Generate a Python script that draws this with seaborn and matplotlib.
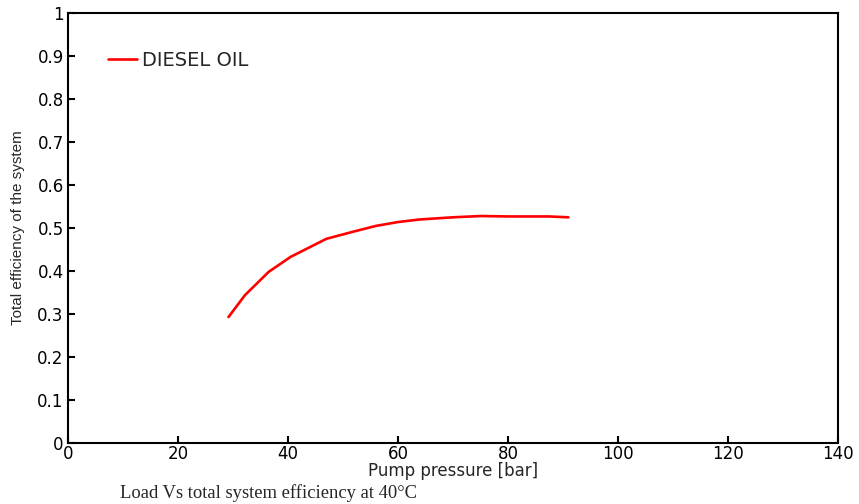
import matplotlib
matplotlib.use("Agg")
import matplotlib.pyplot as plt
import seaborn as sns
import pandas as pd

pressure = [29.2, 32.2, 36.5, 40.5, 47.0, 52.0, 56.0, 60.0, 64.0, 70.0, 75.0, 80.0, 87.5, 91.0]
efficiency = [0.293, 0.344, 0.398, 0.433, 0.475, 0.492, 0.505, 0.514, 0.520, 0.525, 0.528, 0.527, 0.527, 0.525]
series_label = "DIESEL OIL"
x_ticks = [0, 20, 40, 60, 80, 100, 120, 140]
y_ticks = [0, 0.1, 0.2, 0.3, 0.4, 0.5, 0.6, 0.7, 0.8, 0.9, 1]
y_tick_labels = ["0", "0.1", "0.2", "0.3", "0.4", "0.5", "0.6", "0.7", "0.8", "0.9", "1"]

sns.set_style("white")
plt.rcParams['font.family'] = ['DejaVu Sans']

df = pd.DataFrame({"Pump pressure": pressure, "Efficiency": efficiency})

fig = plt.figure(figsize=(8.59, 5.04), dpi=100)
ax = fig.add_axes([0.079, 0.121, 0.8965, 0.853])
sns.lineplot(data=df, x="Pump pressure", y="Efficiency", ax=ax, color="#ff0000",
             linewidth=1.9, label=series_label, sort=False)

ax.set_xlim(0, 140)
ax.set_ylim(0, 1)
ax.set_xticks(x_ticks)
ax.set_yticks(y_ticks)
ax.set_yticklabels(y_tick_labels)
ax.tick_params(direction="in", length=5, width=1.5, labelsize=12, colors="black",
               top=False, right=False, bottom=True, left=True, pad=3)
ax.tick_params(axis="x", pad=1.5)
for s in ax.spines.values():
    s.set_linewidth(1.5)
    s.set_color("black")

ax.set_xlabel("Pump pressure [bar]", fontsize=12, labelpad=-1)
ax.set_ylabel("Total efficiency of the system", fontsize=11, labelpad=0,
              family="Liberation Sans")
ax.yaxis.set_label_coords(-0.056, 0.5)

leg = ax.legend(loc="center left", bbox_to_anchor=(0.052, 0.8907), frameon=False,
                fontsize=14, handlelength=1.5, handletextpad=0.25,
                borderpad=0, borderaxespad=0)

fig.text(0.14, 0.022, "Load Vs total system efficiency at 40°C",
         fontsize=13.4, family="Liberation Serif", ha="left", va="center")

fig.savefig("out.png", dpi=100)
